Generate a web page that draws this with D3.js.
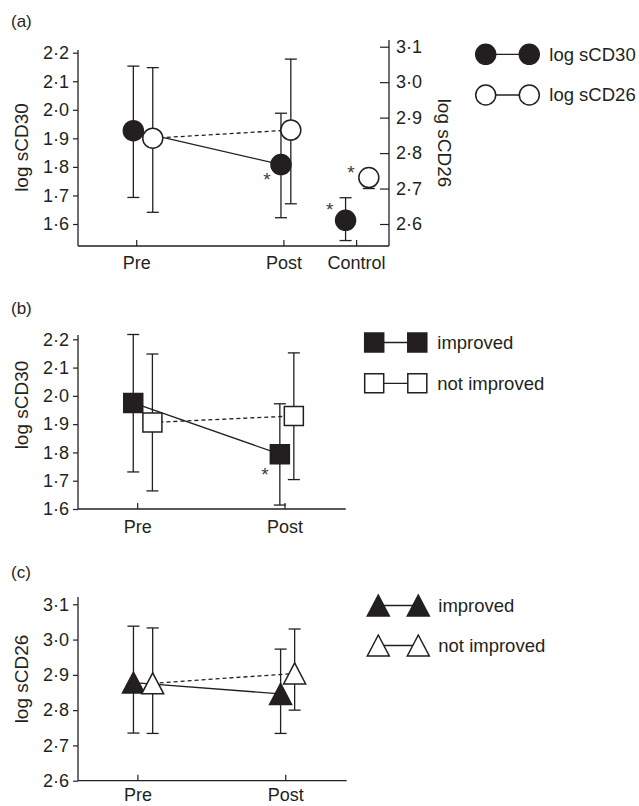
<!DOCTYPE html>
<html>
<head>
<meta charset="utf-8">
<script src="https://cdn.jsdelivr.net/npm/d3@7"></script>
<style>
  body { margin: 0; background: #fff; }
  svg text { font-family: "Liberation Sans", Arial, sans-serif; fill: #231f20; }
</style>
</head>
<body>
<svg id="chart" width="639" height="806"></svg>
<script>
// ---- data ----
// panel (a)
var catsA = ["Pre", "Post", "Control"];
var catPosA = [0, 1, 1.494];
var cd30X = [-0.023, 0.98, 1.419];
var cd30Mean = [1.927, 1.808, 1.613];
var cd30Upper = [2.153, 1.988, 1.692];
var cd30Lower = [1.693, 1.622, 1.542];
var cd30Sig = [null, "below", "above"];
var cd26X = [0.109, 1.047, 1.577];
var cd26Mean = [2.842, 2.865, 2.731];
var cd26Upper = [3.041, 3.065, 2.741];
var cd26Lower = [2.633, 2.657, 2.700];
var cd26Sig = [null, null, "left"];

// panel (b) log sCD30 by outcome
var catsB = ["Pre", "Post"];
var catPosB = [0, 1];
var impX = [-0.03, 0.965];
var notX = [0.1, 1.06];
var bImpMean = [1.975, 1.794];
var bImpUpper = [2.217, 1.972];
var bImpLower = [1.731, 1.614];
var bImpSig = [null, "belowFar"];
var bNotMean = [1.906, 1.929];
var bNotUpper = [2.148, 2.152];
var bNotLower = [1.664, 1.704];

// panel (c) log sCD26 by outcome
var cImpMean = [2.878, 2.846];
var cImpUpper = [3.038, 2.973];
var cImpLower = [2.735, 2.734];
var cNotMean = [2.876, 2.904];
var cNotUpper = [3.033, 3.030];
var cNotLower = [2.734, 2.800];

var leftTicks30 = [1.6, 1.7, 1.8, 1.9, 2.0, 2.1, 2.2];
var ticks26 = [2.6, 2.7, 2.8, 2.9, 3.0, 3.1];

var svg = d3.select("#chart");
var ink = "#231f20";
var fs = "18px";
var fmt = function(d) { return d3.format(".1f")(d).replace(".", "\u00b7"); };

function rows(xs, mean, up, lo, sig) {
  return mean.map(function(m, i) {
    return { x: xs[i], m: m, up: up[i], lo: lo[i], sig: sig ? sig[i] : null };
  });
}

function markerPath(shape) {
  if (shape == "circle") return d3.symbol().type(d3.symbolCircle).size(Math.PI * 10 * 10)();
  if (shape == "square") return "M-9.5,-9.5H9.5V9.5H-9.5Z";
  return "M0,-10.5L11,10.5L-11,10.5Z";
}

function drawSeries(g, x, y, data) {
  // error bars with caps
  var eb = g.append("g").attr("stroke", ink).attr("stroke-width", 1.3);
  data.forEach(function(d) {
    var cx = x(d.x);
    eb.append("line").attr("x1", cx).attr("x2", cx).attr("y1", y(d.up)).attr("y2", y(d.lo));
    eb.append("line").attr("x1", cx - 6).attr("x2", cx + 6).attr("y1", y(d.up)).attr("y2", y(d.up));
    eb.append("line").attr("x1", cx - 6).attr("x2", cx + 6).attr("y1", y(d.lo)).attr("y2", y(d.lo));
  });
}

function drawLine(g, x, y, data, dashed) {
  var two = data.slice(0, 2); // only pre -> post are joined
  g.append("path")
    .attr("d", d3.line().x(function(d) { return x(d.x); }).y(function(d) { return y(d.m); })(two))
    .attr("fill", "none")
    .attr("stroke", ink)
    .attr("stroke-width", 1.3)
    .attr("stroke-dasharray", dashed ? "4,3" : null);
}

function drawMarkers(g, x, y, data, shape, filled) {
  g.selectAll(null).data(data).enter().append("path")
    .attr("d", markerPath(shape))
    .attr("transform", function(d) { return "translate(" + x(d.x) + "," + y(d.m) + ")"; })
    .attr("fill", filled ? ink : "#fff")
    .attr("stroke", ink)
    .attr("stroke-width", 1.5);
  data.forEach(function(d) {
    if (!d.sig) return;
    var cx = x(d.x), cy = y(d.m);
    var off = { below: [-14, 10], above: [-16, -15], left: [-18, -10], belowFar: [-15, 16] }[d.sig];
    g.append("text").attr("x", cx + off[0]).attr("y", cy + off[1] + 11)
      .attr("text-anchor", "middle").style("font-size", "19px").style("fill", "#3a3a3a").text("*");
  });
}

function leftAxis(g, y, ticks, x0, yBase, yTop, label, labelY) {
  var ax = g.append("g").attr("transform", "translate(" + x0 + ",0)")
    .call(d3.axisLeft(y).tickValues(ticks).tickFormat(fmt).tickSize(5).tickPadding(4));
  ax.select(".domain").remove();
  ax.selectAll("line").attr("stroke", ink).attr("stroke-width", 1.2);
  ax.selectAll("text").style("font-size", fs).style("font-family", null);
  g.append("line").attr("x1", x0).attr("x2", x0).attr("y1", yTop).attr("y2", yBase)
    .attr("stroke", ink).attr("stroke-width", 1.3);
  g.append("text").attr("transform", "translate(21," + labelY + ") rotate(-90)")
    .attr("text-anchor", "middle").attr("dy", "0.35em").style("font-size", "19px").text(label);
}

function bottomAxis(g, x, cats, pos, yBase, x0, x1, labelGap) {
  g.append("line").attr("x1", x0).attr("x2", x1).attr("y1", yBase).attr("y2", yBase)
    .attr("stroke", ink).attr("stroke-width", 1.3);
  cats.forEach(function(c, i) {
    g.append("line").attr("x1", x(pos[i])).attr("x2", x(pos[i])).attr("y1", yBase).attr("y2", yBase - 6)
      .attr("stroke", ink).attr("stroke-width", 1.2);
    g.append("text").attr("x", x(pos[i])).attr("y", yBase + labelGap).attr("text-anchor", "middle")
      .style("font-size", fs).text(c);
  });
}

function legend(g, x1, x2, yRow, shape, filled, label) {
  g.append("line").attr("x1", x1).attr("x2", x2).attr("y1", yRow).attr("y2", yRow)
    .attr("stroke", ink).attr("stroke-width", 1.3);
  [x1, x2].forEach(function(cx) {
    g.append("path").attr("d", markerPath(shape)).attr("transform", "translate(" + cx + "," + yRow + ")")
      .attr("fill", filled ? ink : "#fff").attr("stroke", ink).attr("stroke-width", 1.5);
  });
  g.append("text").attr("x", x2 + 20).attr("y", yRow).attr("dy", "0.35em").style("font-size", "18.5px").text(label);
}

function panelLabel(txt, yb) {
  svg.append("text").attr("x", 11).attr("y", yb).style("font-size", "17px").text(txt);
}

// ---------------- panel (a) ----------------
(function() {
  var g = svg.append("g");
  var x = d3.scaleLinear().domain([-0.399, 1.714]).range([78, 389]);
  var yL = d3.scaleLinear().domain([1.6, 2.2]).range([224, 52.7]);
  var yR = d3.scaleLinear().domain([2.6, 3.1]).range([224, 46.7]);
  var base = 246;
  panelLabel("(a)", 27);
  leftAxis(g, yL, leftTicks30, 78, base, 50, "log sCD30", 147.5);
  // right axis, ticks pointing inward
  var ar = g.append("g").attr("transform", "translate(389,0)")
    .call(d3.axisRight(yR).tickValues(ticks26).tickFormat(fmt).tickSize(-9).tickPadding(7));
  ar.select(".domain").remove();
  ar.selectAll("line").attr("stroke", ink).attr("stroke-width", 1.2);
  ar.selectAll("text").style("font-size", fs).style("font-family", null);
  g.append("line").attr("x1", 389).attr("x2", 389).attr("y1", 40).attr("y2", base)
    .attr("stroke", ink).attr("stroke-width", 1.3);
  g.append("text").attr("transform", "translate(445,143) rotate(90)")
    .attr("text-anchor", "middle").attr("dy", "0.35em").style("font-size", "19px").text("log sCD26");
  bottomAxis(g, x, catsA, catPosA, base, 78, 389, 23);

  var d30 = rows(cd30X, cd30Mean, cd30Upper, cd30Lower, cd30Sig);
  var d26 = rows(cd26X, cd26Mean, cd26Upper, cd26Lower, cd26Sig);
  drawSeries(g, x, yL, d30);
  drawSeries(g, x, yR, d26);
  drawLine(g, x, yL, d30, false);
  drawLine(g, x, yR, d26, true);
  drawMarkers(g, x, yL, d30, "circle", true);
  drawMarkers(g, x, yR, d26, "circle", false);

  legend(g, 485.7, 529.3, 54.3, "circle", true, "log sCD30");
  legend(g, 485.7, 529.3, 95, "circle", false, "log sCD26");
})();

// ---------------- panel (b) ----------------
(function() {
  var g = svg.append("g");
  var x = d3.scaleLinear().domain([-0.405, 1.412]).range([78, 345.7]);
  var y = d3.scaleLinear().domain([1.6, 2.2]).range([509, 339.3]);
  var base = 509;
  panelLabel("(b)", 314);
  leftAxis(g, y, leftTicks30, 78, base, 335, "log sCD30", 405);
  bottomAxis(g, x, catsB, catPosB, base, 78, 345.7, 23.5);

  var imp = rows(impX, bImpMean, bImpUpper, bImpLower, bImpSig);
  var not = rows(notX, bNotMean, bNotUpper, bNotLower);
  drawSeries(g, x, y, imp);
  drawSeries(g, x, y, not);
  drawLine(g, x, y, imp, false);
  drawLine(g, x, y, not, true);
  drawMarkers(g, x, y, imp, "square", true);
  drawMarkers(g, x, y, not, "square", false);

  legend(g, 374.2, 417.3, 342.5, "square", true, "improved");
  legend(g, 374.2, 417.3, 383.3, "square", false, "not improved");
})();

// ---------------- panel (c) ----------------
(function() {
  var g = svg.append("g");
  var x = d3.scaleLinear().domain([-0.405, 1.412]).range([78, 346.7]);
  var y = d3.scaleLinear().domain([2.6, 3.1]).range([780.7, 604.3]);
  var base = 780.7;
  panelLabel("(c)", 578);
  leftAxis(g, y, ticks26, 78, base, 597, "log sCD26", 679);
  bottomAxis(g, x, catsB, catPosB, base, 78, 346.7, 20);

  var imp = rows(impX, cImpMean, cImpUpper, cImpLower);
  var not = rows(notX, cNotMean, cNotUpper, cNotLower);
  drawSeries(g, x, y, imp);
  drawSeries(g, x, y, not);
  drawLine(g, x, y, imp, false);
  drawLine(g, x, y, not, true);
  drawMarkers(g, x, y, imp, "triangle", true);
  drawMarkers(g, x, y, not, "triangle", false);

  legend(g, 378.3, 418.3, 605.5, "triangle", true, "improved");
  legend(g, 378.3, 418.3, 645.5, "triangle", false, "not improved");
})();
</script>
</body>
</html>
